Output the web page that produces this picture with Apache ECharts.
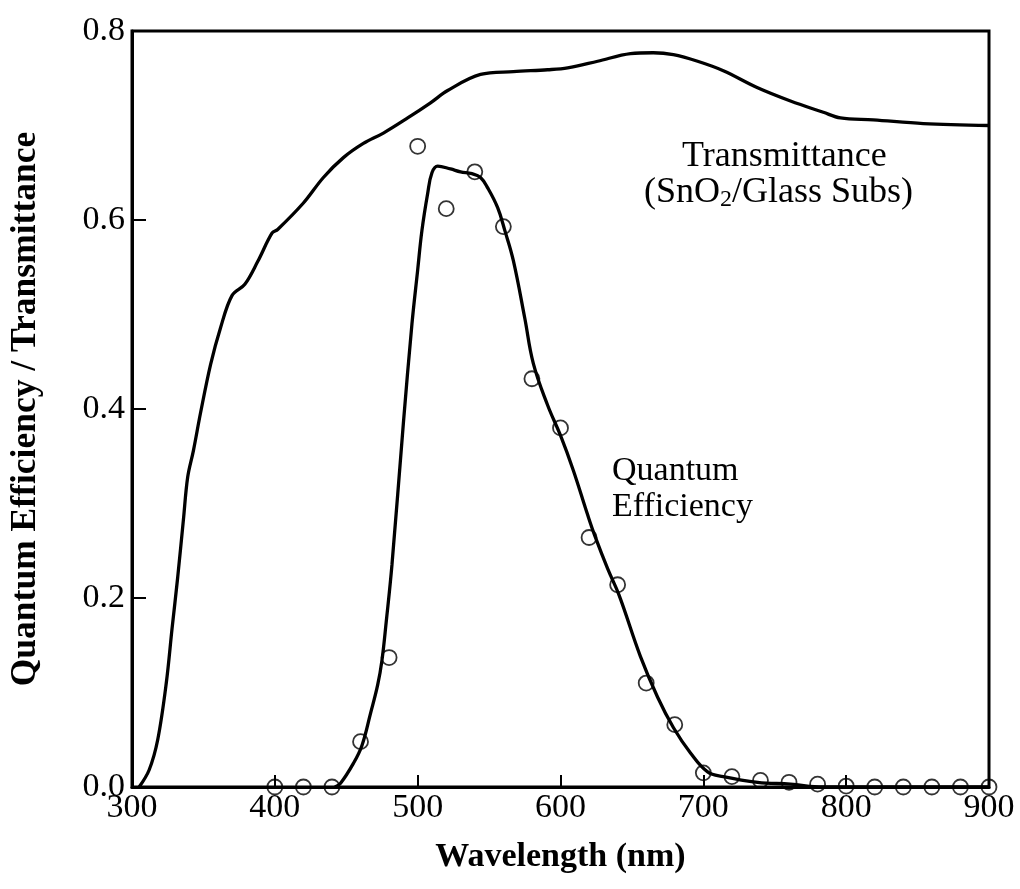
<!DOCTYPE html>
<html>
<head>
<meta charset="utf-8">
<script src="https://cdn.jsdelivr.net/npm/echarts@6/dist/echarts.min.js"></script>
<style>
html,body{margin:0;padding:0;background:#fff;}
#chart{width:1020px;height:889px;}
</style>
</head>
<body>
<div id="chart"></div>
<script>
// Transmittance (SnO2/Glass substrate)
const transWl  = [305, 312, 318, 324, 328, 332, 336, 339, 343, 348, 355, 362, 370, 379, 388, 398, 402, 420, 434, 448, 462, 476, 493, 509, 521, 544, 567, 591, 605, 626, 649, 665, 679, 696, 714, 738, 761, 784, 796, 819, 854, 900];
const transVal = [0.0, 0.018, 0.05, 0.11, 0.167, 0.222, 0.283, 0.328, 0.356, 0.396, 0.447, 0.486, 0.520, 0.532, 0.556, 0.586, 0.590, 0.618, 0.645, 0.666, 0.681, 0.692, 0.708, 0.724, 0.737, 0.754, 0.757, 0.759, 0.761, 0.768, 0.776, 0.777, 0.775, 0.768, 0.758, 0.740, 0.726, 0.714, 0.708, 0.706, 0.702, 0.700];

// Quantum efficiency fitted curve
const qeFitWl  = [442, 446, 455, 461, 467, 472, 475, 478, 482, 490, 496, 500, 503, 507, 510, 514, 523, 530, 538, 544, 549, 556, 561, 567, 575, 581, 591, 600, 609, 619, 624, 633, 641, 656, 668, 679, 691, 703, 714, 738, 761, 784, 800, 900];
const qeFitVal = [0.0, 0.004, 0.025, 0.044, 0.078, 0.108, 0.134, 0.175, 0.235, 0.385, 0.490, 0.547, 0.589, 0.628, 0.650, 0.657, 0.654, 0.651, 0.649, 0.645, 0.634, 0.613, 0.589, 0.557, 0.496, 0.448, 0.404, 0.372, 0.335, 0.288, 0.266, 0.231, 0.203, 0.138, 0.095, 0.063, 0.036, 0.016, 0.011, 0.005, 0.003, 0.0, 0.0, 0.0];

// Quantum efficiency measured points
const qeWl  = [400, 420, 440, 460, 480, 500, 520, 540, 560, 580, 600, 620, 640, 660, 680, 700, 720, 740, 760, 780, 800, 820, 840, 860, 880, 900];
const qeVal = [0, 0, 0, 0.048, 0.137, 0.678, 0.612, 0.651, 0.593, 0.432, 0.380, 0.264, 0.214, 0.110, 0.066, 0.015, 0.011, 0.007, 0.005, 0.003, 0.001, 0, 0, 0, 0, 0];

const xTicks = [300, 400, 500, 600, 700, 800, 900];
const yTicks = [0.0, 0.2, 0.4, 0.6, 0.8];

const xTitle = 'Wavelength (nm)';
const yTitle = 'Quantum Efficiency / Transmittance';

const zip = (a, b) => a.map((v, i) => [v, b[i]]);
const serif = '"Liberation Serif", "DejaVu Serif", serif';

const chart = echarts.init(document.getElementById('chart'));
chart.setOption({
  backgroundColor: '#fff',
  animation: false,
  grid: {left: 132, right: 31, top: 31, bottom: 102, show: true, borderColor: '#000', borderWidth: 3, backgroundColor: 'transparent'},
  xAxis: {
    type: 'value', min: xTicks[0], max: xTicks[xTicks.length - 1], interval: 100,
    name: xTitle, nameLocation: 'middle', nameGap: 53,
    nameTextStyle: {fontFamily: serif, fontWeight: 'bold', fontSize: 34, color: '#000'},
    axisLine: {show: true, lineStyle: {color: '#000', width: 3}},
    axisTick: {show: true, inside: true, length: 12, lineStyle: {color: '#000', width: 2}},
    axisLabel: {fontFamily: serif, fontSize: 34, color: '#000', margin: 4},
    splitLine: {show: false}
  },
  yAxis: {
    type: 'value', min: yTicks[0], max: yTicks[yTicks.length - 1], interval: 0.2,
    name: yTitle, nameLocation: 'middle', nameGap: 88,
    nameTextStyle: {fontFamily: serif, fontWeight: 'bold', fontSize: 35.5, color: '#000'},
    axisLine: {show: true, lineStyle: {color: '#000', width: 3}},
    axisTick: {show: true, inside: true, length: 14, lineStyle: {color: '#000', width: 2}},
    axisLabel: {fontFamily: serif, fontSize: 34, color: '#000', margin: 7, formatter: v => v.toFixed(1)},
    splitLine: {show: false}
  },
  series: [
    {
      name: 'Transmittance', type: 'line', data: zip(transWl, transVal), smooth: 0.35,
      showSymbol: false, lineStyle: {color: '#000', width: 3.3}, z: 3
    },
    {
      name: 'Quantum Efficiency fit', type: 'line', data: zip(qeFitWl, qeFitVal), smooth: 0.4,
      showSymbol: false, lineStyle: {color: '#000', width: 3.3}, z: 3
    },
    {
      name: 'Quantum Efficiency', type: 'scatter', data: zip(qeWl, qeVal), symbol: 'circle', symbolSize: 15,
      itemStyle: {color: 'transparent', borderColor: '#000', borderWidth: 1.8}, z: 4
    }
  ],
  graphic: [
    {type: 'text', left: 682, top: 139, style: {text: 'Transmittance', font: '36px ' + serif, fill: '#000'}},
    {type: 'text', left: 644, top: 175, style: {
      text: '{n|(SnO}{s|2}{n|/Glass Subs)}',
      rich: {
        n: {fontFamily: serif, fontSize: 36, lineHeight: 38, fill: '#000'},
        s: {fontFamily: serif, fontSize: 24, lineHeight: 14, verticalAlign: 'bottom', fill: '#000'}
      }
    }},
    {type: 'text', left: 612, top: 453, style: {text: 'Quantum\nEfficiency', font: '34px ' + serif, lineHeight: 36, fill: '#000'}}
  ]
});
</script>
</body>
</html>
